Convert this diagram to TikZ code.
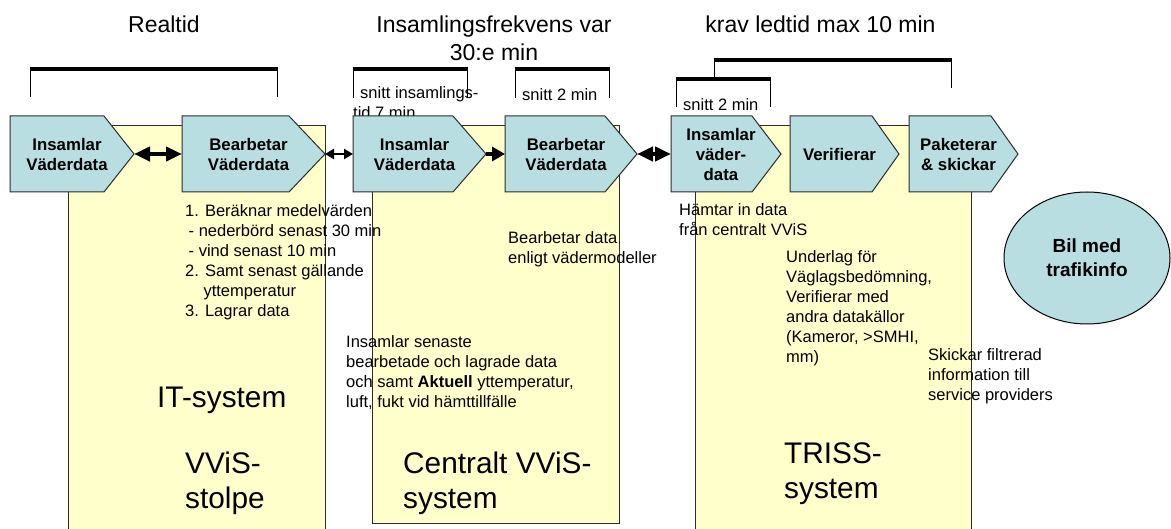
\documentclass[tikz,border=0pt]{standalone}
\usepackage{fontspec}
\setmainfont{Liberation Sans}
\usetikzlibrary{arrows.meta,shapes.geometric}
\definecolor{chevfill}{RGB}{185,222,226}
\definecolor{boxfill}{RGB}{255,255,204}
\definecolor{edge}{RGB}{45,45,45}
\tikzset{
  sysbox/.style={fill=boxfill, draw=edge, line width=1pt},
  chevshape/.style={fill=chevfill, draw=edge, line width=1pt},
  chevtext/.style={font=\fontsize{16.8}{20}\selectfont\bfseries, align=center, inner sep=0pt},
  note/.style={font=\fontsize{16.5}{20}\selectfont, align=left, inner sep=0pt, anchor=north west},
  bigtext/.style={font=\fontsize{29.8}{35}\selectfont, align=left, inner sep=0pt, anchor=north west},
  headtext/.style={font=\fontsize{23}{28}\selectfont, align=center, inner sep=0pt, anchor=north},
  barline/.style={line width=4.5pt, line cap=butt},
  legline/.style={line width=1pt},
  bigdbl/.style={line width=4.5pt, {Triangle[length=16pt,width=14pt]}-{Triangle[length=16pt,width=14pt]}},
  smalldbl/.style={line width=2.5pt, {Triangle[length=9pt,width=10pt]}-{Triangle[length=9pt,width=10pt]}},
  bigone/.style={line width=4.5pt, -{Triangle[length=13pt,width=14pt]}},
}
\newcommand\mkchev[5]{%
  \draw[chevshape] (#2,116) -- (#3,116) -- (#4,154) -- (#3,192) -- (#2,192) -- cycle;
  \coordinate (#1-w) at (#2,154);
  \coordinate (#1-e) at (#4,154);
  \node[chevtext] (#1) at ({(#2+#4)/2-5},154) {#5};
}
\begin{document}
\begin{tikzpicture}[x=1pt,y=-1pt]
\useasboundingbox (0,0) rectangle (1171,529);
\fill[white] (0,0) rectangle (1171,529);

% system boxes
\fill[boxfill] (68,126) rectangle (325,529);
\draw[edge, line width=1pt] (68,529) -- (68,126) -- (325,126) -- (325,529);
\draw[sysbox] (372,126) rectangle (619,523);
\fill[boxfill] (695,126) rectangle (971,529);
\draw[edge, line width=1pt] (695,529) -- (695,126) -- (971,126) -- (971,529);

% bracket texts
\node[note] (t7) at (353,84) {\strut\hspace*{7pt}snitt insamlings-\\tid 7 min};
\node[note] (s2a) at (522,86) {\strut snitt 2 min};
\node[note] (s2b) at (683,96) {\strut snitt 2 min};

% chevrons
\mkchev{c1}{10}{104}{134}{Insamlar\\Väderdata}
\mkchev{c2}{182}{289}{325}{Bearbetar\\Väderdata}
\mkchev{c3}{353}{453}{486}{Insamlar\\Väderdata}
\mkchev{c4}{505}{605}{637}{Bearbetar\\Väderdata}
\mkchev{c5}{671}{752}{781}{Insamlar\\väder-\\data}
\mkchev{c6}{790}{872}{899}{Verifierar}
\mkchev{c7}{909}{991}{1018}{Paketerar\\\& skickar}

% connectors
\draw[bigdbl] (c1-e) -- (c2-w);
\draw[smalldbl] (c2-e) -- (c3-w);
\draw[bigone] (c3-e) -- (c4-w);
\draw[bigdbl] (c4-e) -- (c5-w);

% brackets
\draw[legline] (30,69) -- (30,97);
\draw[legline] (277,69) -- (277,97);
\draw[barline] (29.5,69) -- (277.5,69);
\draw[legline] (353,69) -- (353,98);
\draw[legline] (467,69) -- (467,98);
\draw[barline] (352.5,69) -- (467.5,69);
\draw[legline] (515,69) -- (515,98);
\draw[legline] (609,69) -- (609,98);
\draw[barline] (514.5,69) -- (609.5,69);
\draw[legline] (714,60) -- (714,79);
\draw[legline] (951,60) -- (951,88);
\draw[barline] (713.5,60) -- (951.5,60);
\draw[legline] (676,79) -- (676,107);
\draw[legline] (770,79) -- (770,107);
\draw[barline] (675.5,79) -- (770.5,79);

% headings
\node[headtext] (h1) at (164,12.4) {\strut Realtid};
\node[headtext] (h2) at (494,12.4) {\strut Insamlingsfrekvens var\\30:e min};
\node[headtext] (h3) at (820.5,12.4) {\strut krav ledtid max 10 min};

% notes
\node[note] (n1) at (185,202) {\strut 1. Beräknar medelvärden\\
\hspace*{3.5pt}- nederbörd senast 30 min\\
\hspace*{3.5pt}- vind senast 10 min\\
2. Samt senast gällande\\
\hspace*{18.3pt}yttemperatur\\
3. Lagrar data};
\node[note] (n2) at (508,229) {\strut Bearbetar data\\enligt vädermodeller};
\node[note] (n3) at (679,201) {\strut Hämtar in data\\från centralt VViS};
\node[note] (n4) at (786,248) {\strut Underlag för\\Väglagsbedömning,\\Verifierar med\\andra datakällor\\(Kameror, >SMHI,\\mm)};
\node[note] (n5) at (928,346) {\strut Skickar filtrerad\\information till\\service providers};
\node[note] (n6) at (346,333) {\strut Insamlar senaste\\bearbetade och lagrade data\\och samt \textbf{Aktuell} yttemperatur,\\luft, fukt vid hämttillfälle};

% system names
\node[bigtext] (b1) at (157,382.5) {\strut IT-system};
\node[bigtext] (b2) at (185,448.5) {\strut VViS-\\stolpe};
\node[bigtext] (b3) at (403,448.5) {\strut Centralt VViS-\\system};
\node[bigtext] (b4) at (784,438.5) {\strut TRISS-\\system};

% car
\node[ellipse, draw=black, fill=chevfill, line width=1pt, minimum width=166pt, minimum height=132pt, inner sep=0pt, font=\fontsize{19}{24}\selectfont\bfseries, align=center] (bil) at (1087,258) {Bil med\\trafikinfo};
\end{tikzpicture}
\end{document}
